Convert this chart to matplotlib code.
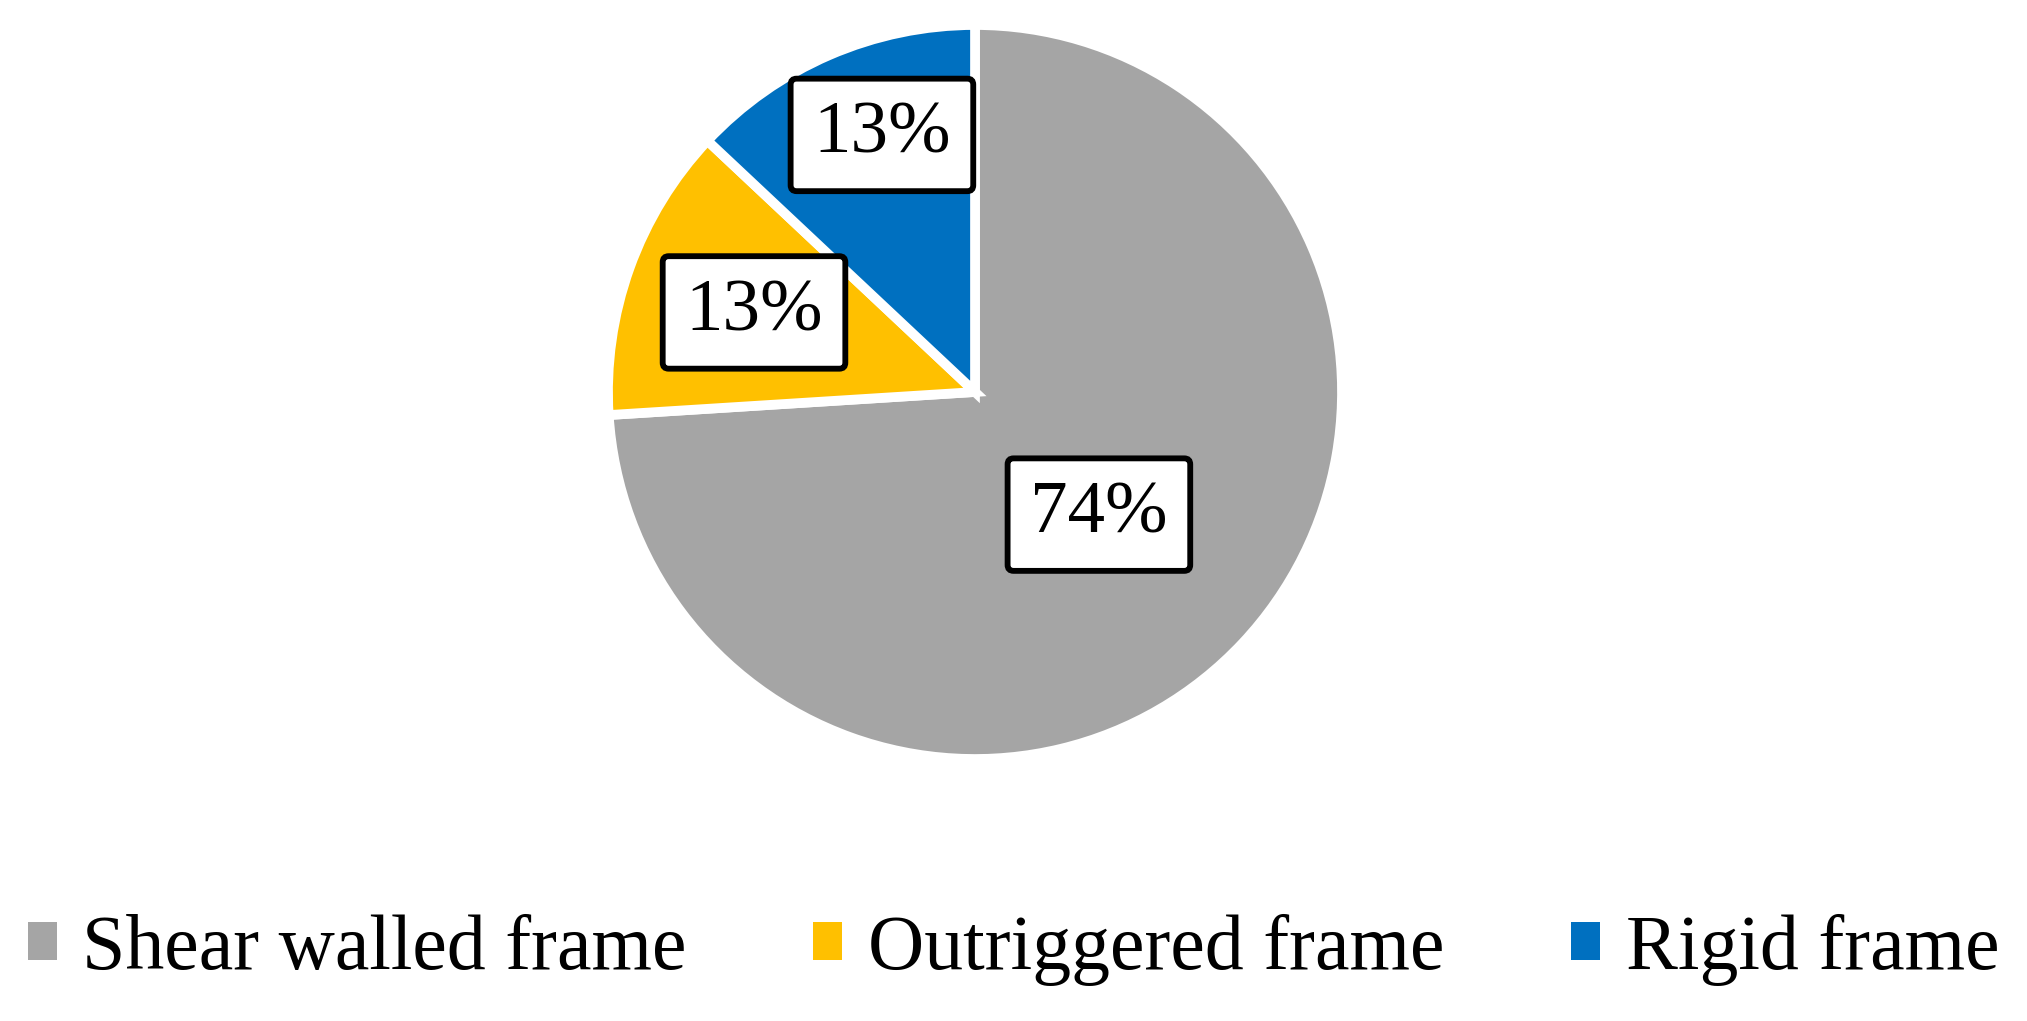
import numpy as np
import matplotlib.pyplot as plt
from matplotlib.patches import Patch

# data
categories = ['Shear walled frame', 'Outriggered frame', 'Rigid frame']
shares = [74, 13, 13]
colors = ['#A5A5A5', '#FFC000', '#0070C0']
# label placement: fraction of radius, angle nudge (deg)
label_radius = [0.475, 0.64, 0.745]
label_nudge = [-1.5, 0, -3.5]

plt.rcParams['font.family'] = ['Liberation Serif', 'DejaVu Serif']

W, H = 2027, 1021
fig = plt.figure(figsize=(W / 100, H / 100), dpi=100)

cx, cy, r = 975, H - 392, 367
ax = fig.add_axes([(cx - r) / W, (cy - r) / H, 2 * r / W, 2 * r / H])

wedges, _ = ax.pie(shares, colors=colors, startangle=90, counterclock=False,
                   radius=1, wedgeprops=dict(edgecolor='white', linewidth=7))
ax.set_xlim(-1.0, 1.0)
ax.set_ylim(-1.0, 1.0)
ax.set_aspect('equal')
ax.axis('off')

# value labels in boxes
for w, v, lr, dn in zip(wedges, shares, label_radius, label_nudge):
    ang = np.deg2rad((w.theta1 + w.theta2) / 2 + dn)
    ax.text(lr * np.cos(ang), lr * np.sin(ang), f'{v}%', fontsize=54,
            ha='center', va='center',
            bbox=dict(boxstyle='round,pad=0.3,rounding_size=0.08',
                      facecolor='white', edgecolor='black', linewidth=4.2))

handles = [Patch(facecolor=c, edgecolor='none') for c in colors]
fig.legend(handles, categories, loc='center', bbox_to_anchor=(0.5, 1 - 950 / H),
           ncol=3, frameon=False, fontsize=56, handlelength=0.37,
           handleheight=0.37, handletextpad=0.33, columnspacing=1.63,
           borderaxespad=0)

fig.savefig('out.png', dpi=100, facecolor='white')
